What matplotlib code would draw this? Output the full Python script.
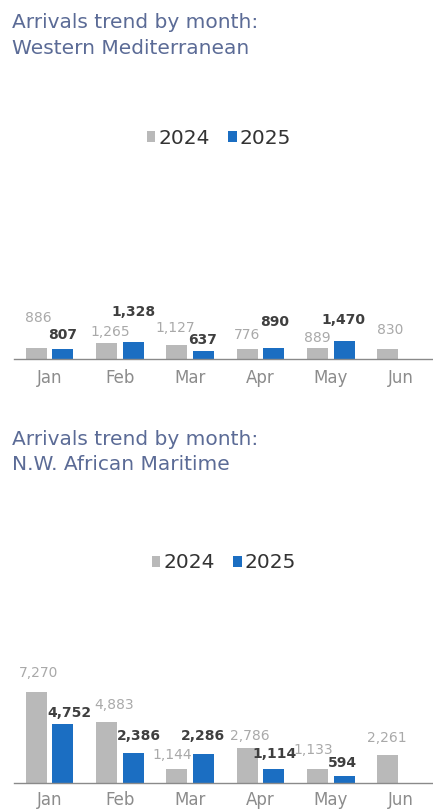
import matplotlib
matplotlib.use("Agg")
import matplotlib.pyplot as plt
import numpy as np

plt.rcParams['font.family'] = ['DejaVu Sans']

months = ['Jan', 'Feb', 'Mar', 'Apr', 'May', 'Jun']
wm_2024 = [886, 1265, 1127, 776, 889, 830]
wm_2025 = [807, 1328, 637, 890, 1470]
nwa_2024 = [7270, 4883, 1144, 2786, 1133, 2261]
nwa_2025 = [4752, 2386, 2286, 1114, 594]
series_names = ['2024', '2025']
titles = [['Arrivals trend by month:', 'Western Mediterranean'],
          ['Arrivals trend by month:', 'N.W. African Maritime']]

# label placement tweaks (pixels: dx, dy above bar top to label centre)
wm_off_24 = [(2, 30), (4, 11), (-2, 17), (0, 14), (0, 10), (2, 19)]
wm_off_25 = [(0, 14), (0, 30), (-1, 11), (1, 26), (-1, 21)]
nwa_off_24 = [(2, 19), (8, 17), (-5, 14), (3, 12), (-4, 19), (-1, 17)]
nwa_off_25 = [(7, 11), (6, 17), (-1, 18), (1, 15), (-2, 13)]

C24 = '#b9b9b9'
C25 = '#1b6ec2'
TITLE_C = '#5b6b96'
W, H = 433, 810

fig = plt.figure(figsize=(W / 100, H / 100), dpi=100)

def fy(px):
    return 1 - px / H

def draw(baseline_px, title, title_y, legend_y, legend_x, v24, v25, off24, off25, pad):
    ax = fig.add_axes([14.3 / W, (H - baseline_px) / H, 422 / W, 100 / H])
    x = np.arange(len(months))
    x25 = np.arange(len(v25))
    bw, shift = 0.30, 0.19
    b1 = ax.bar(x - shift, v24, bw, color=C24, label=series_names[0])
    b2 = ax.bar(x25 + shift, v25, bw, color=C25, label=series_names[1])
    ax.set_xlim(-0.5, 5.5)
    ax.set_ylim(0, 8000)
    for s in ['top', 'right', 'left']:
        ax.spines[s].set_visible(False)
    ax.spines['bottom'].set_color('#8a8a8a')
    ax.spines['bottom'].set_linewidth(1.0)
    ax.set_yticks([])
    ax.set_xticks(x)
    ax.set_xticklabels(months, fontsize=12, color='#8c8c8c')
    ax.tick_params(axis='x', length=0, pad=pad)
    for xi, v, (dx, dy) in zip(x, v24, off24):
        ax.annotate(f'{v:,}', (xi - shift, v), xytext=(dx, dy),
                    textcoords='offset pixels', ha='center', va='center',
                    fontsize=10, color='#a9a9a9')
    for xi, v, (dx, dy) in zip(x25, v25, off25):
        ax.annotate(f'{v:,}', (xi + shift, v), xytext=(dx, dy),
                    textcoords='offset pixels', ha='center', va='center',
                    fontsize=10, color='#3f3f3f', fontweight='bold')
    for i, line in enumerate(title):
        fig.text(12 / W, fy(title_y + i * 25.5), line, fontsize=14.5, color=TITLE_C,
                 va='baseline', ha='left')
    ax.legend(handles=[b1, b2], loc='center', bbox_to_anchor=(legend_x / W, fy(legend_y)),
              bbox_transform=fig.transFigure, ncol=2, frameon=False,
              fontsize=14.5, handlelength=0.42, handleheight=0.42,
              handletextpad=0.15, columnspacing=0.9, labelcolor='#333333')
    return ax

draw(359, titles[0], 28, 138, 219, wm_2024, wm_2025, wm_off_24, wm_off_25, 7.5)
draw(783, titles[1], 445, 563, 224, nwa_2024, nwa_2025, nwa_off_24, nwa_off_25, 5.5)

fig.savefig('out.png', dpi=100, facecolor='white')
